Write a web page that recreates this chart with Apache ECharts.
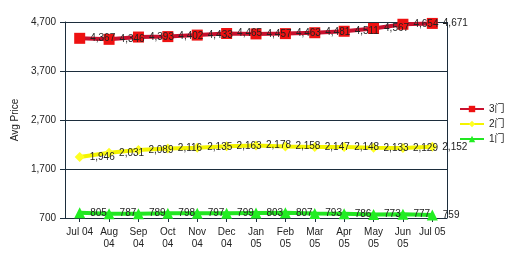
<!DOCTYPE html>
<html><head><meta charset="utf-8">
<script src="https://cdn.jsdelivr.net/npm/echarts@6/dist/echarts.min.js"></script>
<style>html,body{margin:0;padding:0;background:#fff}#c{width:512px;height:265px}</style>
</head><body><div id="c"></div>
<script>
var categories = ["Jul 04","Aug 04","Sep 04","Oct 04","Nov 04","Dec 04","Jan 05","Feb 05","Mar 05","Apr 05","May 05","Jun 05","Jul 05"];
var door3 = [4367,4346,4393,4402,4433,4465,4457,4463,4481,4511,4567,4654,4671];
var door2 = [1946,2031,2089,2116,2135,2163,2178,2158,2147,2148,2133,2129,2152];
var door1 = [805,787,789,798,797,799,803,807,793,786,773,777,759];
var seriesNames = ["3门","2门","1门"];
var yTicks = {min:700, max:4700, interval:1000};

function fmt(v){return String(v).replace(/\B(?=(\d{3})+(?!\d))/g, ",");}
var font = "Liberation Sans";
function mk(name, data, color, lineColor, symbol, size){
  return {name:name, type:"line", data:data, symbol:symbol, symbolSize:size,
    lineStyle:{width:4, color:lineColor}, itemStyle:{color:color},
    label:{show:true, position:"right", distance:5, color:"#222", fontFamily:font, fontSize:10,
      formatter:function(p){return fmt(p.value);}},
    emphasis:{disabled:true}, animation:false};
}
var chart = echarts.init(document.getElementById("c"));
chart.setOption({
  animation:false,
  grid:{left:65, right:65, top:22, bottom:47},
  legend:{orient:"vertical", left:454, top:99, itemGap:5, itemWidth:24, itemHeight:8,
    textStyle:{fontFamily:"'Liberation Sans', 'Noto Sans CJK SC'", fontSize:10, color:"#222"},
    data:seriesNames},
  xAxis:{type:"category", data:categories, boundaryGap:true,
    axisLine:{lineStyle:{color:"#1c2d3c", width:1}},
    axisTick:{show:true, alignWithLabel:true, length:4, lineStyle:{color:"#1c2d3c"}},
    axisLabel:{fontFamily:font, fontSize:10, color:"#222", interval:0, margin:8, lineHeight:12,
      formatter:function(v){return v.indexOf("Jul")===0 ? v : v.replace(" ", "\n");}}},
  yAxis:{type:"value", min:yTicks.min, max:yTicks.max, interval:yTicks.interval,
    name:"Avg Price", nameLocation:"middle", nameGap:31, nameRotate:90,
    nameTextStyle:{fontFamily:font, fontSize:10, color:"#222"},
    axisLine:{show:true, lineStyle:{color:"#1c2d3c"}},
    axisTick:{show:true, length:5, lineStyle:{color:"#1c2d3c"}},
    splitLine:{show:true, lineStyle:{color:"#1c2d3c", width:1}},
    axisLabel:{fontFamily:font, fontSize:10, color:"#222", margin:9, formatter:function(v){return fmt(v);}}},
  series:[
    mk(seriesNames[0], door3, "#ee1111", "#c8102e", "rect", 11),
    mk(seriesNames[1], door2, "#ffff22", "#f4f400", "diamond", 10),
    mk(seriesNames[2], door1, "#22ee22", "#22e622", "triangle", 11),
    {type:"line", data:[], markLine:{silent:true, symbol:"none", label:{show:false},
      lineStyle:{color:"#1c2d3c", type:"solid", width:1}, data:[[{x:447,y:22},{x:447,y:218}]]}}
  ]
});
</script></body></html>
